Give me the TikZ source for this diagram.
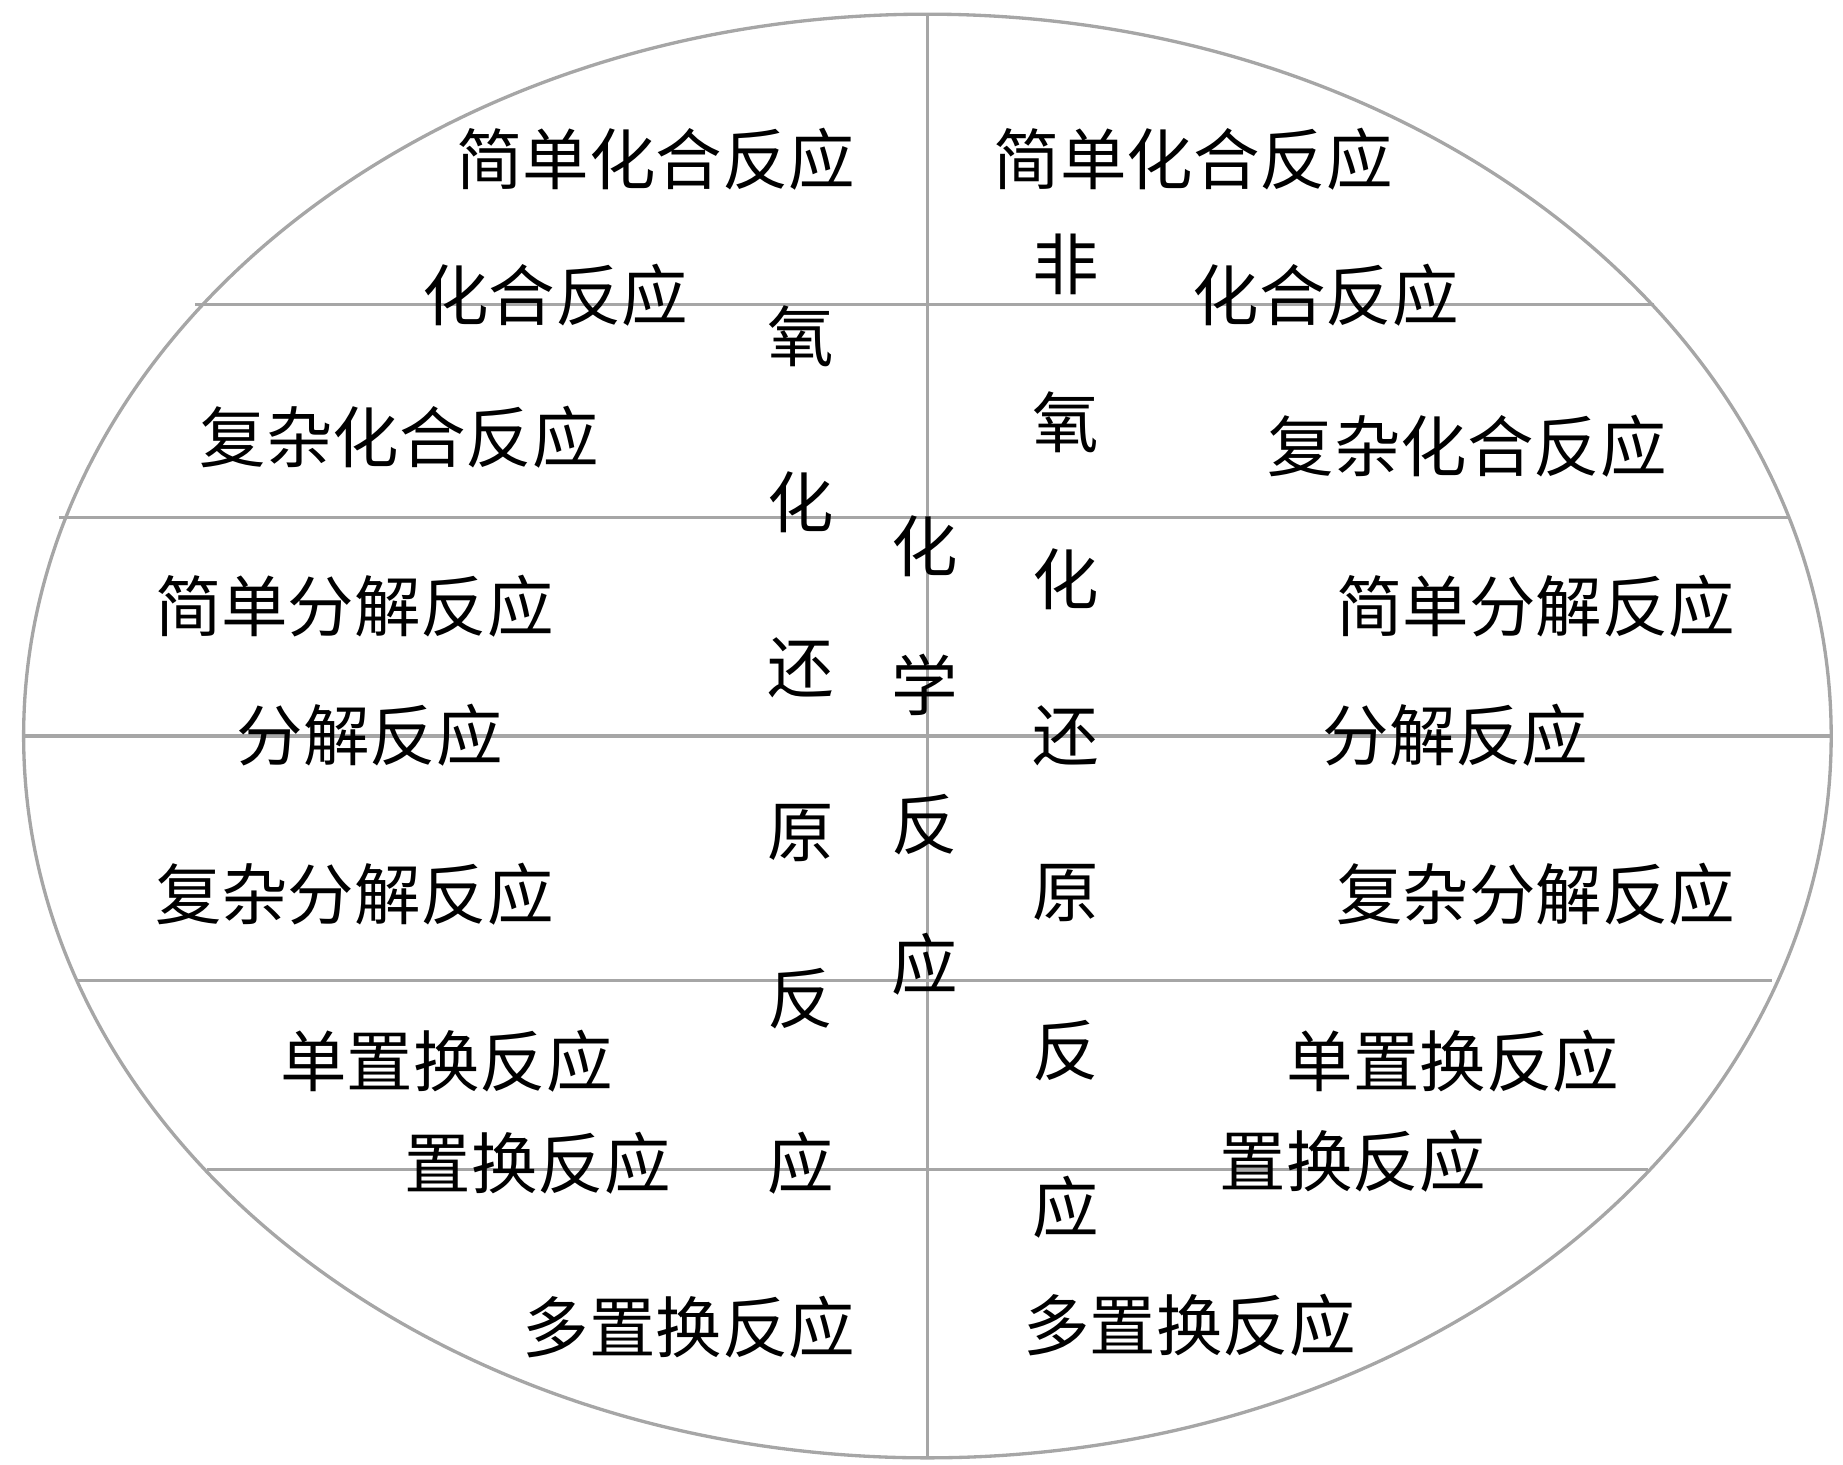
\documentclass[tikz,border=0pt]{standalone}
\usepackage{fontspec}
\setmainfont{Noto Sans CJK SC}
\tikzset{
  divline/.style={gray!70, line width=0.8pt},
  rlabel/.style={font=\fontsize{16}{18}\selectfont, inner sep=0pt},
}
\begin{document}
\begin{tikzpicture}[x=0.01cm, y=-0.01cm]
  \useasboundingbox (0,0) rectangle (1560,1240);
  \draw [gray!70, line width=0.8pt] (785,623) ellipse [x radius=765, y radius=611];
  \draw [divline] (785,12) -- (785,1234);
  \draw [divline] (165,258) -- (1400,258);
  \draw [divline] (50,438) -- (1515,438);
  \draw [divline] (20,623) -- (1550,623);
  \draw [divline] (65,830) -- (1500,830);
  \draw [divline] (175,990) -- (1395,990);
  % left half
  \node [rlabel] (l1) at (555,135) {简单化合反应};
  \node [rlabel] (l2) at (470,250) {化合反应};
  \node [rlabel] (l3) at (338,370) {复杂化合反应};
  \node [rlabel] (l4) at (300,513) {简单分解反应};
  \node [rlabel] (l5) at (313,622) {分解反应};
  \node [rlabel] (l6) at (300,757) {复杂分解反应};
  \node [rlabel] (l7) at (378,898) {单置换反应};
  \node [rlabel] (l8) at (455,985) {置换反应};
  \node [rlabel] (l9) at (583,1123) {多置换反应};
  % right half
  \node [rlabel] (r1) at (1010,135) {简单化合反应};
  \node [rlabel] (r2) at (1122,250) {化合反应};
  \node [rlabel] (r3) at (1242,378) {复杂化合反应};
  \node [rlabel] (r4) at (1300,513) {简单分解反应};
  \node [rlabel] (r5) at (1232,622) {分解反应};
  \node [rlabel] (r6) at (1300,757) {复杂分解反应};
  \node [rlabel] (r7) at (1230,898) {单置换反应};
  \node [rlabel] (r8) at (1145,983) {置换反应};
  \node [rlabel] (r9) at (1007,1122) {多置换反应};
  % vertical columns
  \foreach \c [count=\i] in {氧,化,还,原,反,应}
    \node [rlabel] (ox\i) at (678,{145+140*\i}) {\c};
  \foreach \c [count=\i] in {化,学,反,应}
    \node [rlabel] (hx\i) at (783,{344+118*\i}) {\c};
  \foreach \c [count=\i] in {非,氧,化,还,原,反,应}
    \node [rlabel] (nx\i) at (902,{91+133*\i}) {\c};
\end{tikzpicture}
\end{document}
